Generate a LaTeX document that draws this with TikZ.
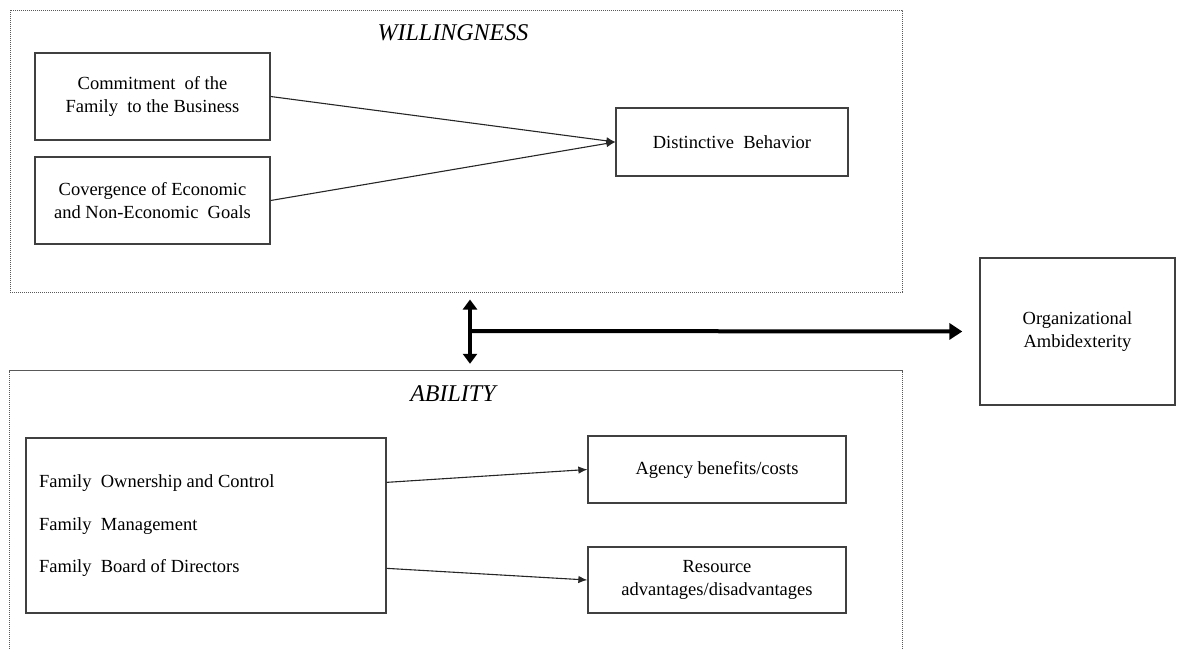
\documentclass[tikz,border=0pt]{standalone}
\usepackage{fontspec}
\setmainfont{Liberation Serif}
\usetikzlibrary{arrows.meta,calc}
\begin{document}
\begin{tikzpicture}[x=1pt,y=-1pt,
  every node/.style={font=\fontsize{18.5}{23}\selectfont, text=black},
  box/.style={draw=black!75, line width=1.3pt, inner sep=0pt, align=center},
  panel/.style={draw=black!65, line width=1pt, dash pattern=on 1.2pt off 0.8pt},
  link/.style={draw=black!85, line width=1.1pt, -{Latex[length=9pt,width=7.5pt]}},
  heavy/.style={draw=black, line width=4pt},
  heading/.style={font=\fontsize{24}{28}\selectfont\itshape}]

\useasboundingbox (0,0) rectangle (1177,648);

% dashed containers
\node[panel, inner sep=0pt, minimum width=892pt, minimum height=282pt] (will) at (456,151) {};
\node[inner sep=0pt, minimum width=892pt, minimum height=290pt] (abl) at (456,516) {};
\draw[panel] (abl.south west) -- (abl.north west) -- (abl.north east) -- (abl.south east);

\node[heading] at (453,33) {WILLINGNESS};
\node[heading] at (453,394) {ABILITY};

% willingness
\node[box, minimum width=235pt, minimum height=87pt] (c1) at (152.5,96.5)
  {Commitment\ \ of the\\Family\ \ to the Business};
\node[box, minimum width=235pt, minimum height=87pt] (c2) at (152.5,200.5)
  {Covergence of Economic\\and Non-Economic\ \ Goals};
\node[box, minimum width=232pt, minimum height=68pt] (db) at (732,142)
  {Distinctive\ \ Behavior};

\draw[link] (c1.east) -- (db.west);
\draw[link] (c2.east) -- (db.west);

% ability
\node[box, minimum width=360pt, minimum height=175pt] (fam) at (206,525.5) {};
\node[anchor=west, align=left, inner sep=0pt] (famtxt) at (39,526)
  {Family\ \ Ownership and Control\\[19.5pt]Family\ \ Management\\[19.5pt]Family\ \ Board of Directors};
\node[box, minimum width=258pt, minimum height=67pt] (ag) at (717,469.5)
  {Agency benefits/costs};
\node[box, minimum width=258pt, minimum height=66pt] (rs) at (717,580)
  {Resource\\advantages/disadvantages};

\coordinate (f1) at ($(fam.north east)+(0,45)$);
\coordinate (f2) at ($(fam.north east)+(0,131)$);
\draw[link] (f1) -- (ag.west);
\draw[link] (f2) -- (rs.west);

% outcome
\node[box, minimum width=195pt, minimum height=147pt] (org) at (1077.5,331.5)
  {Organizational\\Ambidexterity};

\coordinate (hub) at (470,331);
\draw[heavy, {Triangle[length=10pt,width=14pt]}-{Triangle[length=10pt,width=14pt]},
  shorten <=7pt, shorten >=7pt] (hub |- will.south) -- (hub |- abl.north);
\draw[heavy, -{Triangle[length=13pt,width=16pt]}, shorten >=17pt] (hub) -- (org.west);
\end{tikzpicture}
\end{document}
